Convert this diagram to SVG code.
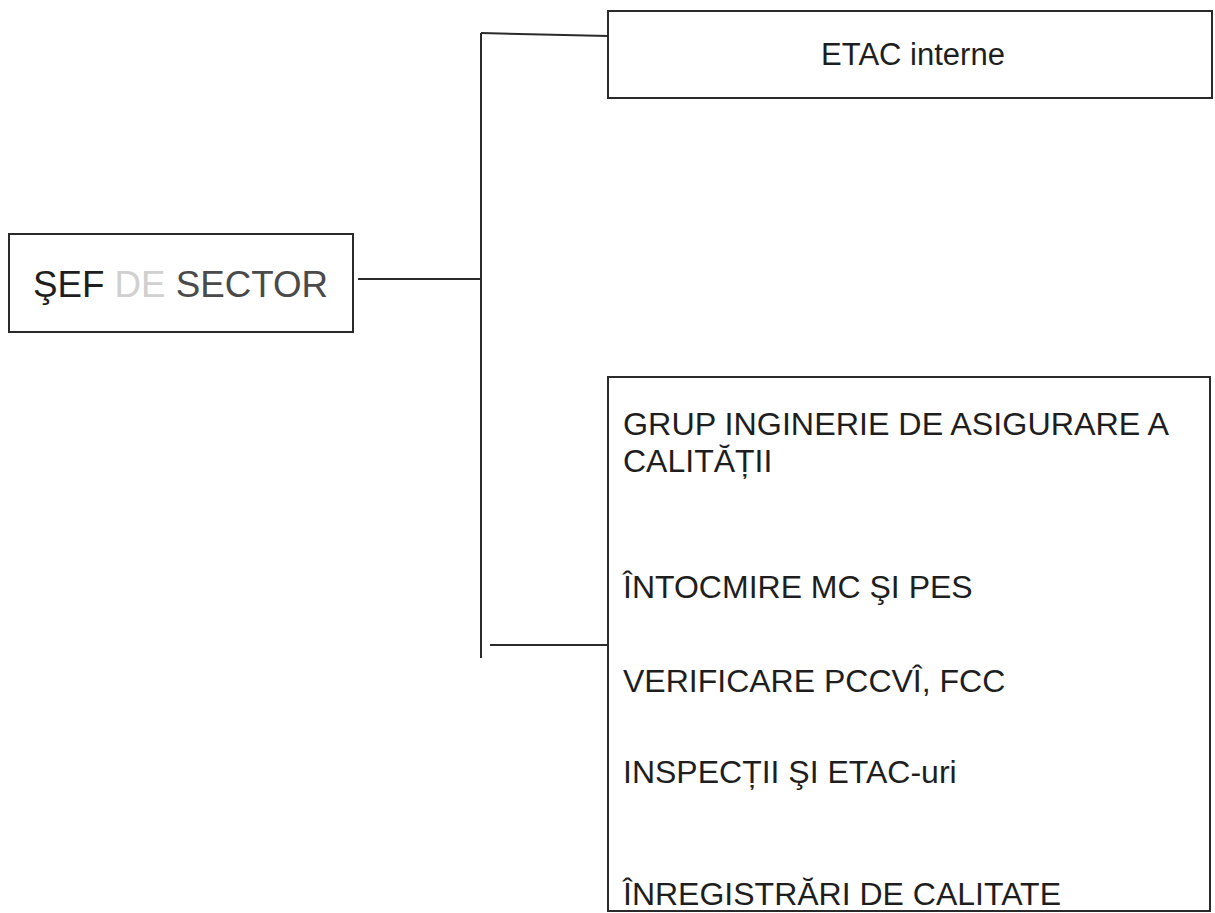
<svg xmlns="http://www.w3.org/2000/svg" width="1215" height="913" viewBox="0 0 1215 913">
<style>
.box{fill:#fff;stroke:#2a2a2a;stroke-width:2}
.ln{fill:none;stroke:#2a2a2a;stroke-width:2}
.t{font-family:"Liberation Sans",Arial,sans-serif;fill:#1e1e1e}
.b{font-size:32px}
</style>
<rect width="1215" height="913" fill="#fff"/>
<g id="connectors">
<path class="ln" d="M358 279 H481"/>
<path class="ln" d="M481 33 V658"/>
<path class="ln" d="M481 33 L608 36"/>
<path class="ln" d="M490 645 H608"/>
</g>
<g id="sef">
<rect class="box" x="9" y="234" width="344" height="98"/>
<text class="t" x="33" y="297" font-size="37" textLength="295" lengthAdjust="spacingAndGlyphs">ŞEF <tspan fill="#d0d0d0">DE</tspan> <tspan fill="#4a4a4a">SECTOR</tspan></text>
</g>
<g id="etac">
<rect class="box" x="608" y="11" width="604" height="87"/>
<text class="t" x="913" y="65" font-size="31" text-anchor="middle">ETAC interne</text>
</g>
<g id="grup">
<rect class="box" x="608" y="377" width="602" height="534"/>
<text class="t b" x="623" y="435" textLength="546" lengthAdjust="spacingAndGlyphs">GRUP INGINERIE DE ASIGURARE A</text>
<text class="t b" x="623" y="472">CALITĂȚII</text>
<text class="t b" x="623" y="598">ÎNTOCMIRE MC ŞI PES</text>
<text class="t b" x="623" y="692">VERIFICARE PCCVÎ, FCC</text>
<text class="t b" x="623" y="783">INSPECȚII ŞI ETAC-uri</text>
<text class="t b" x="623" y="905">ÎNREGISTRĂRI DE CALITATE</text>
</g>
</svg>
